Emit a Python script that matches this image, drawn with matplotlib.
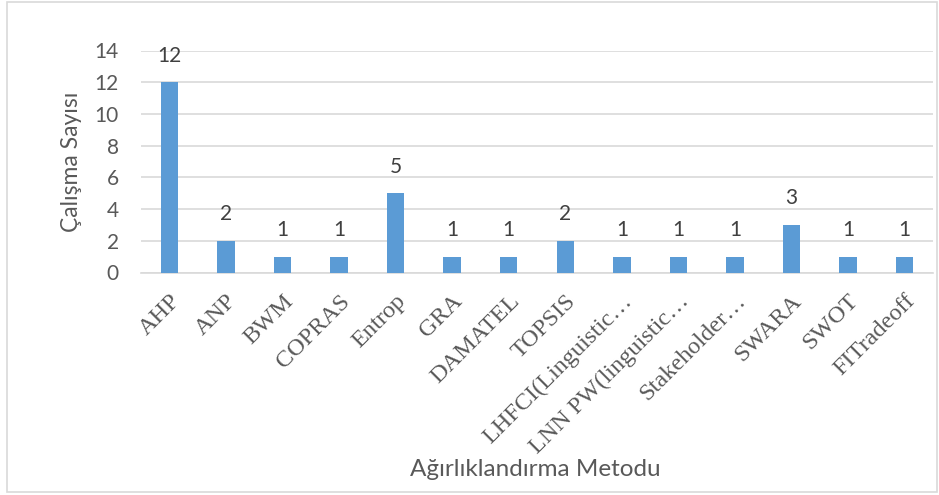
import matplotlib.pyplot as plt
from matplotlib.patches import Rectangle
from matplotlib.transforms import ScaledTranslation

methods = ['AHP', 'ANP', 'BWM', 'COPRAS', 'Entrop', 'GRA', 'DAMATEL', 'TOPSIS',
           'LHFCI(Linguistic…', 'LNN PW(linguistic…', 'Stakeholder…', 'SWARA',
           'SWOT', 'FITradeoff']
counts = [12, 2, 1, 1, 5, 1, 1, 2, 1, 1, 1, 3, 1, 1]
yticks = [0, 2, 4, 6, 8, 10, 12, 14]

W, H = 939, 495
fig = plt.figure(figsize=(W / 100, H / 100), dpi=100)
ax = fig.add_axes([141 / W, 1 - 272.5 / H, (933 - 141) / W, (272.5 - 50.5) / H])

txt = '#595959'
sans = 'Lato'

x = range(len(methods))
ax.bar(x, counts, width=0.306, color='#5B9BD5', zorder=3)
for i, v in zip(x, counts):
    ax.text(i, v + 1.05, str(v), ha='center', va='bottom', fontsize=15,
            color='#404040', family=sans)

ax.set_xlim(-0.5, len(methods) - 0.5)
ax.set_ylim(0, 14)
ax.set_yticks(yticks)
ax.set_yticklabels([str(t) for t in yticks], fontsize=15, color=txt, family=sans)
ax.yaxis.grid(True, color='#D9D9D9', linewidth=1.2, zorder=0)
ax.set_xticks(list(x))
ax.set_xticklabels(methods, rotation=45, ha='right', va='top',
                   rotation_mode='anchor', fontsize=17.5, color=txt,
                   family='Liberation Serif')
# truncated labels sit a bit further right in the original
for lab in ax.get_xticklabels():
    if lab.get_text().endswith('…'):
        lab.set_transform(lab.get_transform() +
                          ScaledTranslation(0.14, 0, fig.dpi_scale_trans))
ax.tick_params(length=0)
ax.tick_params(axis='x', pad=13)
ax.tick_params(axis='y', pad=16)
for s in ['top', 'right', 'left']:
    ax.spines[s].set_visible(False)
ax.spines['bottom'].set_color('#D9D9D9')
ax.spines['bottom'].set_linewidth(1.2)

fig.text(72 / W, 1 - 162 / H, 'Çalışma Sayısı', rotation=90, ha='center',
         va='center', fontsize=16.5, color=txt, family=sans)
fig.text(535 / W, 1 - 469 / H, 'Ağırlıklandırma Metodu', ha='center',
         va='center', fontsize=17.5, color=txt, family=sans)

fig.patches.append(Rectangle((7 / W, 1 - 492 / H), (937 - 7) / W, (492 - 2) / H,
                             transform=fig.transFigure, fill=False,
                             edgecolor='#D9D9D9', linewidth=1.2))

fig.savefig('out.png', dpi=100)
